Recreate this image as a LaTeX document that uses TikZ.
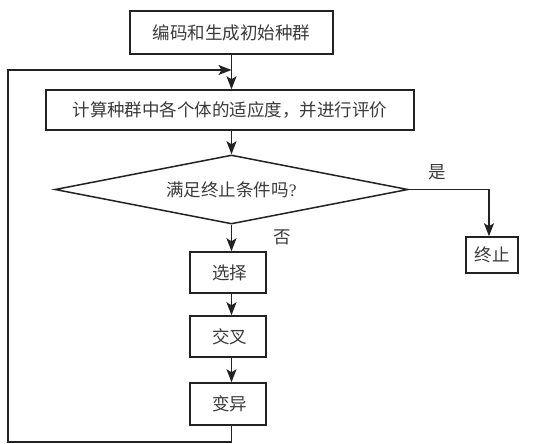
\documentclass[tikz,border=0pt]{standalone}
\usepackage{fontspec}
\setmainfont{Liberation Serif}
\newfontfamily\cjk{Noto Sans CJK SC}
\usetikzlibrary{shapes.geometric,arrows.meta}
\definecolor{txt}{HTML}{3A3A3A}
\definecolor{ln}{HTML}{222222}
\tikzset{
  box/.style={draw=ln,line width=1.5pt,rectangle,inner sep=0pt,font=\fontsize{17.5pt}{20pt}\selectfont\cjk,text=txt},
  dia/.style={draw=ln,line width=1.5pt,diamond,shape aspect=5,inner sep=0pt,font=\fontsize{17.5pt}{20pt}\selectfont,text=txt},
  lab/.style={font=\fontsize{17.5pt}{20pt}\selectfont\cjk,text=txt,inner sep=0pt},
  arr/.style={draw=ln,line width=1.5pt,-{Stealth[length=13pt,width=10pt,inset=3pt]}},
}
\begin{document}
\begin{tikzpicture}[x=1pt,y=-1pt]
\useasboundingbox (0,0) rectangle (558,444);
\node[box,minimum width=203pt,minimum height=43pt] (init) at (231.5,32.5) {编码和生成初始种群};
\node[box,minimum width=368pt,minimum height=40pt] (eval) at (230,110) {计算种群中各个体的适应度，并进行评价};
\node[dia,minimum width=353pt,minimum height=69pt] (dec) at (231.5,189.5) {{\cjk 满足终止条件吗}?};
\node[box,minimum width=52pt,minimum height=36pt] (stop) at (492,255) {终止};
\node[box,minimum width=76pt,minimum height=41pt,text width=76pt,align=center,xshift=0pt] (sel) at (228,272.5) {\hspace*{3pt}选择};
\node[box,minimum width=76pt,minimum height=41pt,text width=76pt,align=center] (cross) at (228,336.5) {\hspace*{3pt}交叉};
\node[box,minimum width=76pt,minimum height=42pt,text width=76pt,align=center] (mut) at (228,404) {\hspace*{3pt}变异};
\node[lab] (yes) at (437,172) {是};
\node[lab] (no) at (282,237) {否};
\coordinate (loopin) at (231.5,70);
\coordinate (loopl) at (8,442);
\draw[arr] (init.south) -- (init.south |- eval.north);
\draw[arr] (eval.south -| init.south) -- (dec.north);
\draw[arr] (dec.south) -- (dec.south |- sel.north);
\draw[arr] (sel.south -| dec.south) -- (dec.south |- cross.north);
\draw[arr] (cross.south -| dec.south) -- (dec.south |- mut.north);
\draw[arr] (dec.east) -| ([xshift=-3pt]stop.north);
\draw[arr] (mut.south -| dec.south) |- (loopl) |- (loopin);
\end{tikzpicture}
\end{document}
